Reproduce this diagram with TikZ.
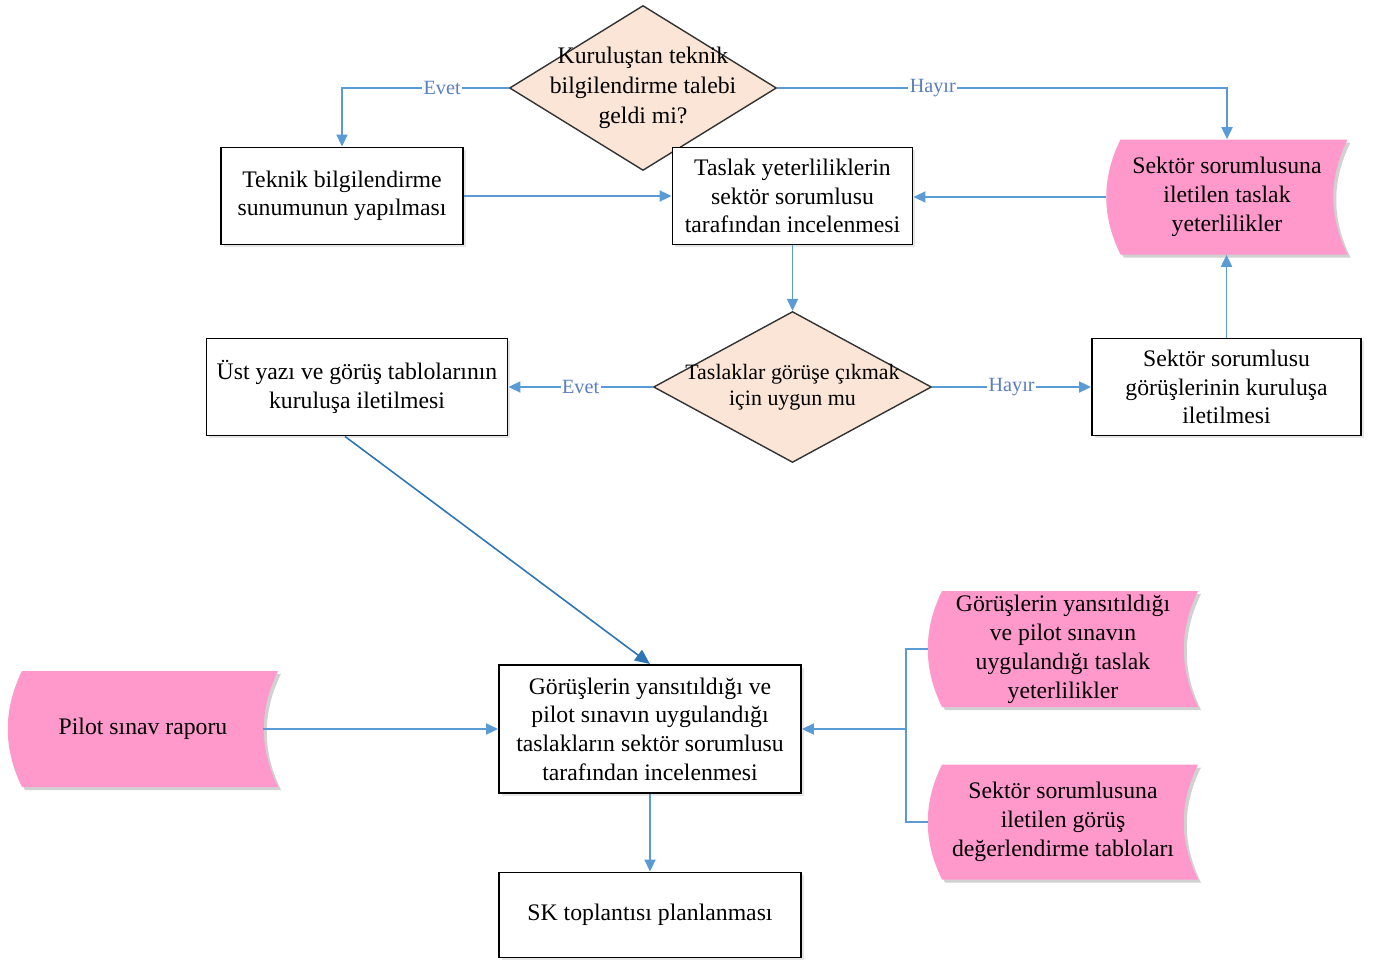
\documentclass[tikz,border=0pt]{standalone}
\usepackage{fontspec}
\setmainfont{Liberation Serif}
\usetikzlibrary{arrows.meta,shapes.geometric,calc,shadows}
\definecolor{lineblue}{HTML}{5B9BD5}
\definecolor{darkblue}{HTML}{2E75B6}
\definecolor{lblblue}{HTML}{5A7EC0}
\definecolor{pinkfill}{HTML}{FF99CC}
\definecolor{peach}{HTML}{FBE5D6}
\newcommand\pinkdata[6]{%
  \fill[black!18] ({#2-#4/2+17},{#3-#5/2+3}) -- ({#2+#4/2+3},{#3-#5/2+3}) .. controls ({#2+#4/2-16},{#3-#5/6+3}) and ({#2+#4/2-16},{#3+#5/6+3}) .. ({#2+#4/2+3},{#3+#5/2+3}) -- ({#2-#4/2+17},{#3+#5/2+3}) .. controls ({#2-#4/2-2},{#3+#5/6+3}) and ({#2-#4/2-2},{#3-#5/6+3}) .. cycle;
  \fill[pinkfill] ({#2-#4/2+14},{#3-#5/2}) -- ({#2+#4/2},{#3-#5/2}) .. controls ({#2+#4/2-19},{#3-#5/6}) and ({#2+#4/2-19},{#3+#5/6}) .. ({#2+#4/2},{#3+#5/2}) -- ({#2-#4/2+14},{#3+#5/2}) .. controls ({#2-#4/2-5},{#3+#5/6}) and ({#2-#4/2-5},{#3-#5/6}) .. cycle;
  \node[sdtext, minimum width={#4*0.02cm}, minimum height={#5*0.02cm}] (#1) at (#2,#3) {#6};
}
\begin{document}
\begin{tikzpicture}[x=0.02cm,y=-0.02cm,
  box/.style={draw=black, line width=1.1pt, fill=white, align=center,
    font=\fontsize{13.5}{16.3}\selectfont, inner sep=0pt,
    drop shadow={shadow xshift=1.5pt, shadow yshift=-1.5pt, opacity=0.2}},
  dec/.style={diamond, draw=black!80, line width=0.8pt, fill=peach, inner sep=0pt},
  dtext/.style={align=center, font=\fontsize{13.5}{17}\selectfont},
  dtextb/.style={align=center, font=\fontsize{12.5}{14.8}\selectfont},
  sdtext/.style={align=center, font=\fontsize{13.5}{16.5}\selectfont, inner sep=0pt},
  conn/.style={draw=lineblue, line width=1.1pt, -{Triangle[length=0.24cm,width=0.22cm]}},
  plain/.style={draw=lineblue, line width=1.1pt},
  lbl/.style={fill=white, text=lblblue, font=\fontsize{11.5}{13}\selectfont, inner sep=0.8pt}
]
\useasboundingbox (0,0) rectangle (1379,963);

% decisions
\node[dec, minimum width=5.34cm, minimum height=3.3cm,
  label={[dtext]center:Kuruluştan teknik\\bilgilendirme talebi\\geldi mi?}] (d1) at (643,88) {};
\node[dec, minimum width=5.56cm, minimum height=3.02cm,
  label={[dtextb]center:Taslaklar görüşe çıkmak\\için uygun mu}] (d2) at (792.5,387) {};

% process boxes
\node[box, minimum width=4.84cm, minimum height=1.94cm] (b1) at (342,196) {Teknik bilgilendirme\\sunumunun yapılması};
\node[box, minimum width=4.8cm, minimum height=1.94cm] (b2) at (792.5,196) {Taslak yeterliliklerin\\sektör sorumlusu\\tarafından incelenmesi};
\node[box, minimum width=6.02cm, minimum height=1.94cm] (b3) at (357,387) {Üst yazı ve görüş tablolarının\\kuruluşa iletilmesi};
\node[box, minimum width=5.38cm, minimum height=1.94cm] (b4) at (1226.5,387) {Sektör sorumlusu\\görüşlerinin kuruluşa\\iletilmesi};
\node[box, minimum width=6.04cm, minimum height=2.56cm] (b5) at (650,729) {Görüşlerin yansıtıldığı ve\\pilot sınavın uygulandığı\\taslakların sektör sorumlusu\\tarafından incelenmesi};
\node[box, minimum width=6.04cm, minimum height=1.7cm] (b6) at (650,915) {SK toplantısı planlanması};

% stored data
\pinkdata{p1}{1227}{197}{241}{115}{Sektör sorumlusuna\\iletilen taslak\\yeterlilikler}
\pinkdata{p2}{143}{729}{270}{116}{Pilot sınav raporu}
\pinkdata{p3}{1063}{649}{270}{116}{Görüşlerin yansıtıldığı\\ve pilot sınavın\\uygulandığı taslak\\yeterlilikler}
\pinkdata{p4}{1063}{822}{270}{115}{Sektör sorumlusuna\\iletilen görüş\\değerlendirme tabloları}

% connectors
\draw[conn] (d1.west) -| (b1.north) node[lbl, pos=0.2] {Evet};
\draw[conn] (d1.east) -| (p1.north) node[lbl, pos=0.173] {Hayır};
\draw[conn] (b1.east) -- (b2.west);
\draw[conn] (p1.west) -- (p1.west -| b2.east);
\draw[conn] (b2.south) -- (d2.north);
\draw[conn] (d2.west) -- (b3.east) node[lbl, pos=0.5] {Evet};
\draw[conn] (d2.east) -- (b4.west) node[lbl, pos=0.5] {Hayır};
\draw[conn] (b4.north) -- (b4.north |- p1.south);
\draw[draw=darkblue, line width=0.9pt, -{Triangle[length=0.3cm,width=0.26cm]}] ($(b3.south)+(-12,0)$) -- (b5.north);
\draw[conn] ($(p2.east)+(-15,0)$) -- (b5.west);
\coordinate (j) at (906,729);
\draw[plain] (p3.west) -| (j);
\draw[plain] (p4.west) -| (j);
\draw[conn] (j) -- (b5.east);
\draw[conn] (b5.south) -- (b6.north);
\end{tikzpicture}
\end{document}
